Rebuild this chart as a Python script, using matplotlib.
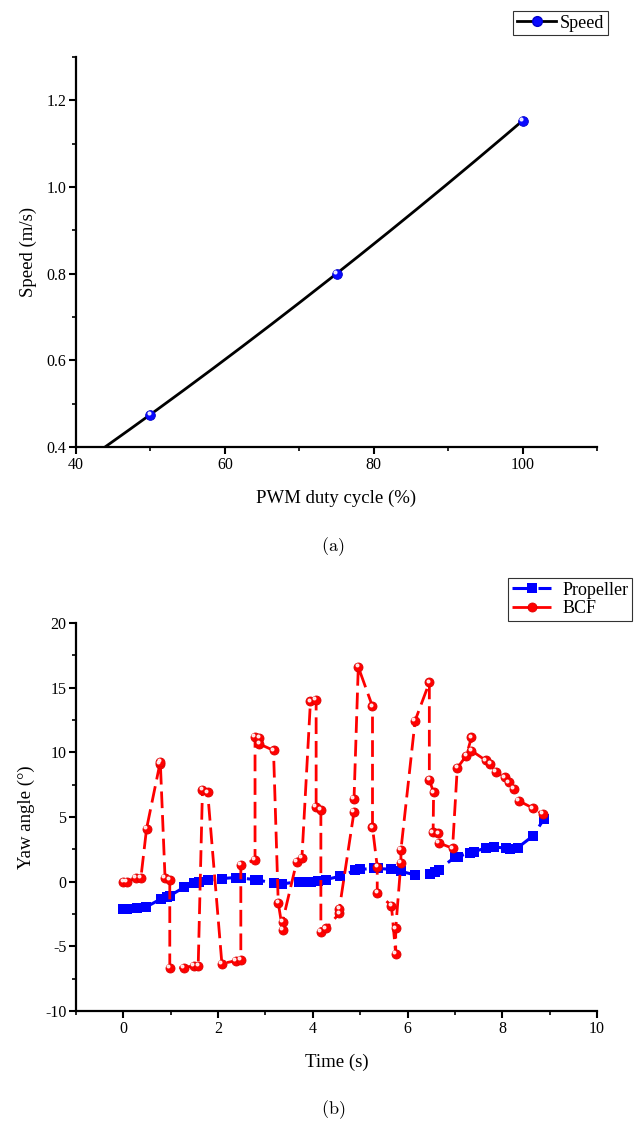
import numpy as np
import matplotlib
matplotlib.use("Agg")
import matplotlib.pyplot as plt
from matplotlib.ticker import MultipleLocator
from matplotlib.transforms import ScaledTranslation

plt.rcParams['font.family'] = ['Liberation Serif', 'DejaVu Serif']
plt.rcParams['mathtext.fontset'] = 'cm'
plt.rcParams['axes.unicode_minus'] = False

# ---- data (a) ----
pwm = [50, 75, 100]
speed = [0.475, 0.80, 1.153]

# ---- data (b) ----
prop_t = [0, 0.08, 0.28, 0.48, 0.79, 0.92, 0.98, 1.28, 1.49, 1.6, 1.78, 2.08, 2.37, 2.48,
          2.78, 2.85, 3.17, 3.34, 3.7, 3.8, 3.97, 4.1, 4.27, 4.58, 4.9, 5.0, 5.3, 5.38,
          5.66, 5.86, 6.16, 6.47, 6.58, 6.66, 7.0, 7.07, 7.31, 7.4, 7.66, 7.82, 8.07,
          8.17, 8.33, 8.65, 8.88]
prop_y = [-2.12, -2.12, -2.07, -1.96, -1.34, -1.15, -1.09, -0.44, -0.12, -0.02, 0.1, 0.24,
          0.32, 0.28, 0.16, 0.13, -0.13, -0.18, 0, 0, 0, 0.02, 0.16, 0.42, 0.88, 0.95,
          1.03, 1.02, 0.95, 0.8, 0.52, 0.56, 0.77, 0.92, 1.9, 1.93, 2.25, 2.31, 2.62,
          2.68, 2.6, 2.56, 2.64, 3.54, 4.85]

bcf_t = [0, 0.08, 0.27, 0.37, 0.49, 0.77, 0.78, 0.88, 0.98, 0.98, 1.28, 1.49, 1.58, 1.67,
         1.78, 2.08, 2.37, 2.48, 2.48, 2.78, 2.78, 2.87, 2.87, 3.17, 3.27, 3.36, 3.36,
         3.66, 3.77, 3.95, 4.07, 4.07, 4.17, 4.17, 4.28, 4.56, 4.56, 4.87, 4.87, 4.96,
         5.26, 5.26, 5.36, 5.36, 5.66, 5.75, 5.75, 5.86, 5.86, 6.16, 6.46, 6.46, 6.55,
         6.54, 6.65, 6.66, 6.95, 7.05, 7.24, 7.35, 7.35, 7.65, 7.75, 7.86, 8.05, 8.14,
         8.24, 8.35, 8.65, 8.85]
bcf_y = [0, 0, 0.3, 0.3, 4.1, 9.1, 9.25, 0.3, 0.15, -6.65, -6.65, -6.5, -6.5, 7.1, 6.9,
         -6.33, -6.12, -6.02, 1.29, 1.68, 11.2, 11.1, 10.65, 10.15, -1.63, -3.7, -3.1,
         1.55, 1.86, 13.95, 14.05, 5.8, 5.56, -3.88, -3.62, -2.45, -2.1, 5.4, 6.4, 16.6,
         13.55, 4.19, 1.16, -0.85, -1.86, -5.6, -3.62, 1.47, 2.45, 12.45, 15.4, 7.88,
         6.9, 3.82, 3.75, 3.0, 2.58, 8.79, 9.74, 11.16, 10.13, 9.38, 9.1, 8.48, 8.06,
         7.67, 7.16, 6.25, 5.68, 5.22]

W, H = 635, 1123
fig = plt.figure(figsize=(W / 100, H / 100), dpi=100)

TICK_FS = 11.5
LABEL_FS = 13.5
LEG_FS = 13


def ax_rect(l, r, t, b):
    return [l / W, 1 - b / H, (r - l) / W, (b - t) / H]


def style(ax):
    for s in ['top', 'right']:
        ax.spines[s].set_visible(False)
    for s in ['left', 'bottom']:
        ax.spines[s].set_linewidth(1.6)
    ax.tick_params(which='major', direction='out', length=5, width=1.5,
                   labelsize=TICK_FS, pad=2)
    ax.tick_params(which='minor', direction='out', length=3, width=1.2)


def highlight(ax, x, y, size):
    off = ScaledTranslation(-1.2 / 72, 1.2 / 72, fig.dpi_scale_trans)
    ax.plot(x, y, linestyle='none', marker='o', markersize=size, color='white',
            alpha=0.85, transform=ax.transData + off, zorder=5, clip_on=False)


# ---------- (a) ----------
ax1 = fig.add_axes(ax_rect(76, 597, 57, 447))
coef = np.polyfit(pwm, speed, 2)
xs = np.linspace(40, 100, 200)
ax1.plot(xs, np.polyval(coef, xs), color='black', lw=2.0, zorder=2)
ax1.plot(pwm, speed, linestyle='none', marker='o', markersize=7, color='#0a0aff',
         markeredgecolor='#0000cc', markeredgewidth=0.6, zorder=4)
highlight(ax1, pwm, speed, 2.0)
h1, = ax1.plot([], [], color='black', lw=2.0, marker='o', markersize=7,
               markerfacecolor='#0a0aff', markeredgecolor='#0000cc', label='Speed')
ax1.set_xlim(40, 110)
ax1.set_ylim(0.4, 1.3)
ax1.xaxis.set_minor_locator(MultipleLocator(10))
ax1.yaxis.set_major_locator(MultipleLocator(0.2))
ax1.yaxis.set_minor_locator(MultipleLocator(0.1))
ax1.set_xticks([40, 60, 80, 100])
ax1.yaxis.set_major_formatter(matplotlib.ticker.FormatStrFormatter('%.1f'))
style(ax1)
ax1.set_xlabel('PWM duty cycle (%)', fontsize=LABEL_FS, labelpad=12)
ax1.set_ylabel('Speed (m/s)', fontsize=LABEL_FS, labelpad=7)
leg1 = ax1.legend(handles=[h1], loc='upper right', bbox_to_anchor=(608 / W, 1 - 11 / H),
                  bbox_transform=fig.transFigure, fontsize=LEG_FS, frameon=True,
                  fancybox=False, borderpad=0.2, handlelength=2.2, handletextpad=0.2,
                  borderaxespad=0)
leg1.get_frame().set_edgecolor('black')
leg1.get_frame().set_linewidth(0.8)

fig.text(333 / W, 1 - 547 / H, r'$\mathrm{(a)}$', ha='center', va='center', fontsize=13)

# ---------- (b) ----------
ax2 = fig.add_axes(ax_rect(76, 597, 623, 1011))
lp, = ax2.plot(prop_t, prop_y, color='#0000ff', lw=2.2, marker='s', markersize=6.5,
               markeredgewidth=0, dashes=[6, 2.5], label='Propeller', zorder=3)
lb, = ax2.plot(bcf_t, bcf_y, color='#ff0000', lw=2.0, marker='o', markersize=6.5,
               markeredgecolor='#dd0000', markeredgewidth=0.6, dashes=[6, 2.5],
               label='BCF', zorder=4)
highlight(ax2, bcf_t, bcf_y, 1.9)
ax2.set_xlim(-1, 10)
ax2.set_ylim(-10, 20)
ax2.xaxis.set_minor_locator(MultipleLocator(1))
ax2.yaxis.set_major_locator(MultipleLocator(5))
ax2.yaxis.set_minor_locator(MultipleLocator(2.5))
ax2.set_xticks([0, 2, 4, 6, 8, 10])
style(ax2)
ax2.set_xlabel('Time (s)', fontsize=LABEL_FS, labelpad=12)
ax2.set_ylabel('Yaw angle (°)', fontsize=LABEL_FS, labelpad=7)
leg2 = ax2.legend(handles=[lp, lb], loc='upper right', bbox_to_anchor=(632 / W, 1 - 578 / H),
                  bbox_transform=fig.transFigure, fontsize=LEG_FS, frameon=True,
                  fancybox=False, borderpad=0.2, handlelength=2.2, handletextpad=0.6,
                  borderaxespad=0, labelspacing=0.1)
leg2.get_frame().set_edgecolor('black')
leg2.get_frame().set_linewidth(0.8)

fig.text(333 / W, 1 - 1110 / H, r'$\mathrm{(b)}$', ha='center', va='center', fontsize=13)

fig.savefig('out.png', dpi=100)
